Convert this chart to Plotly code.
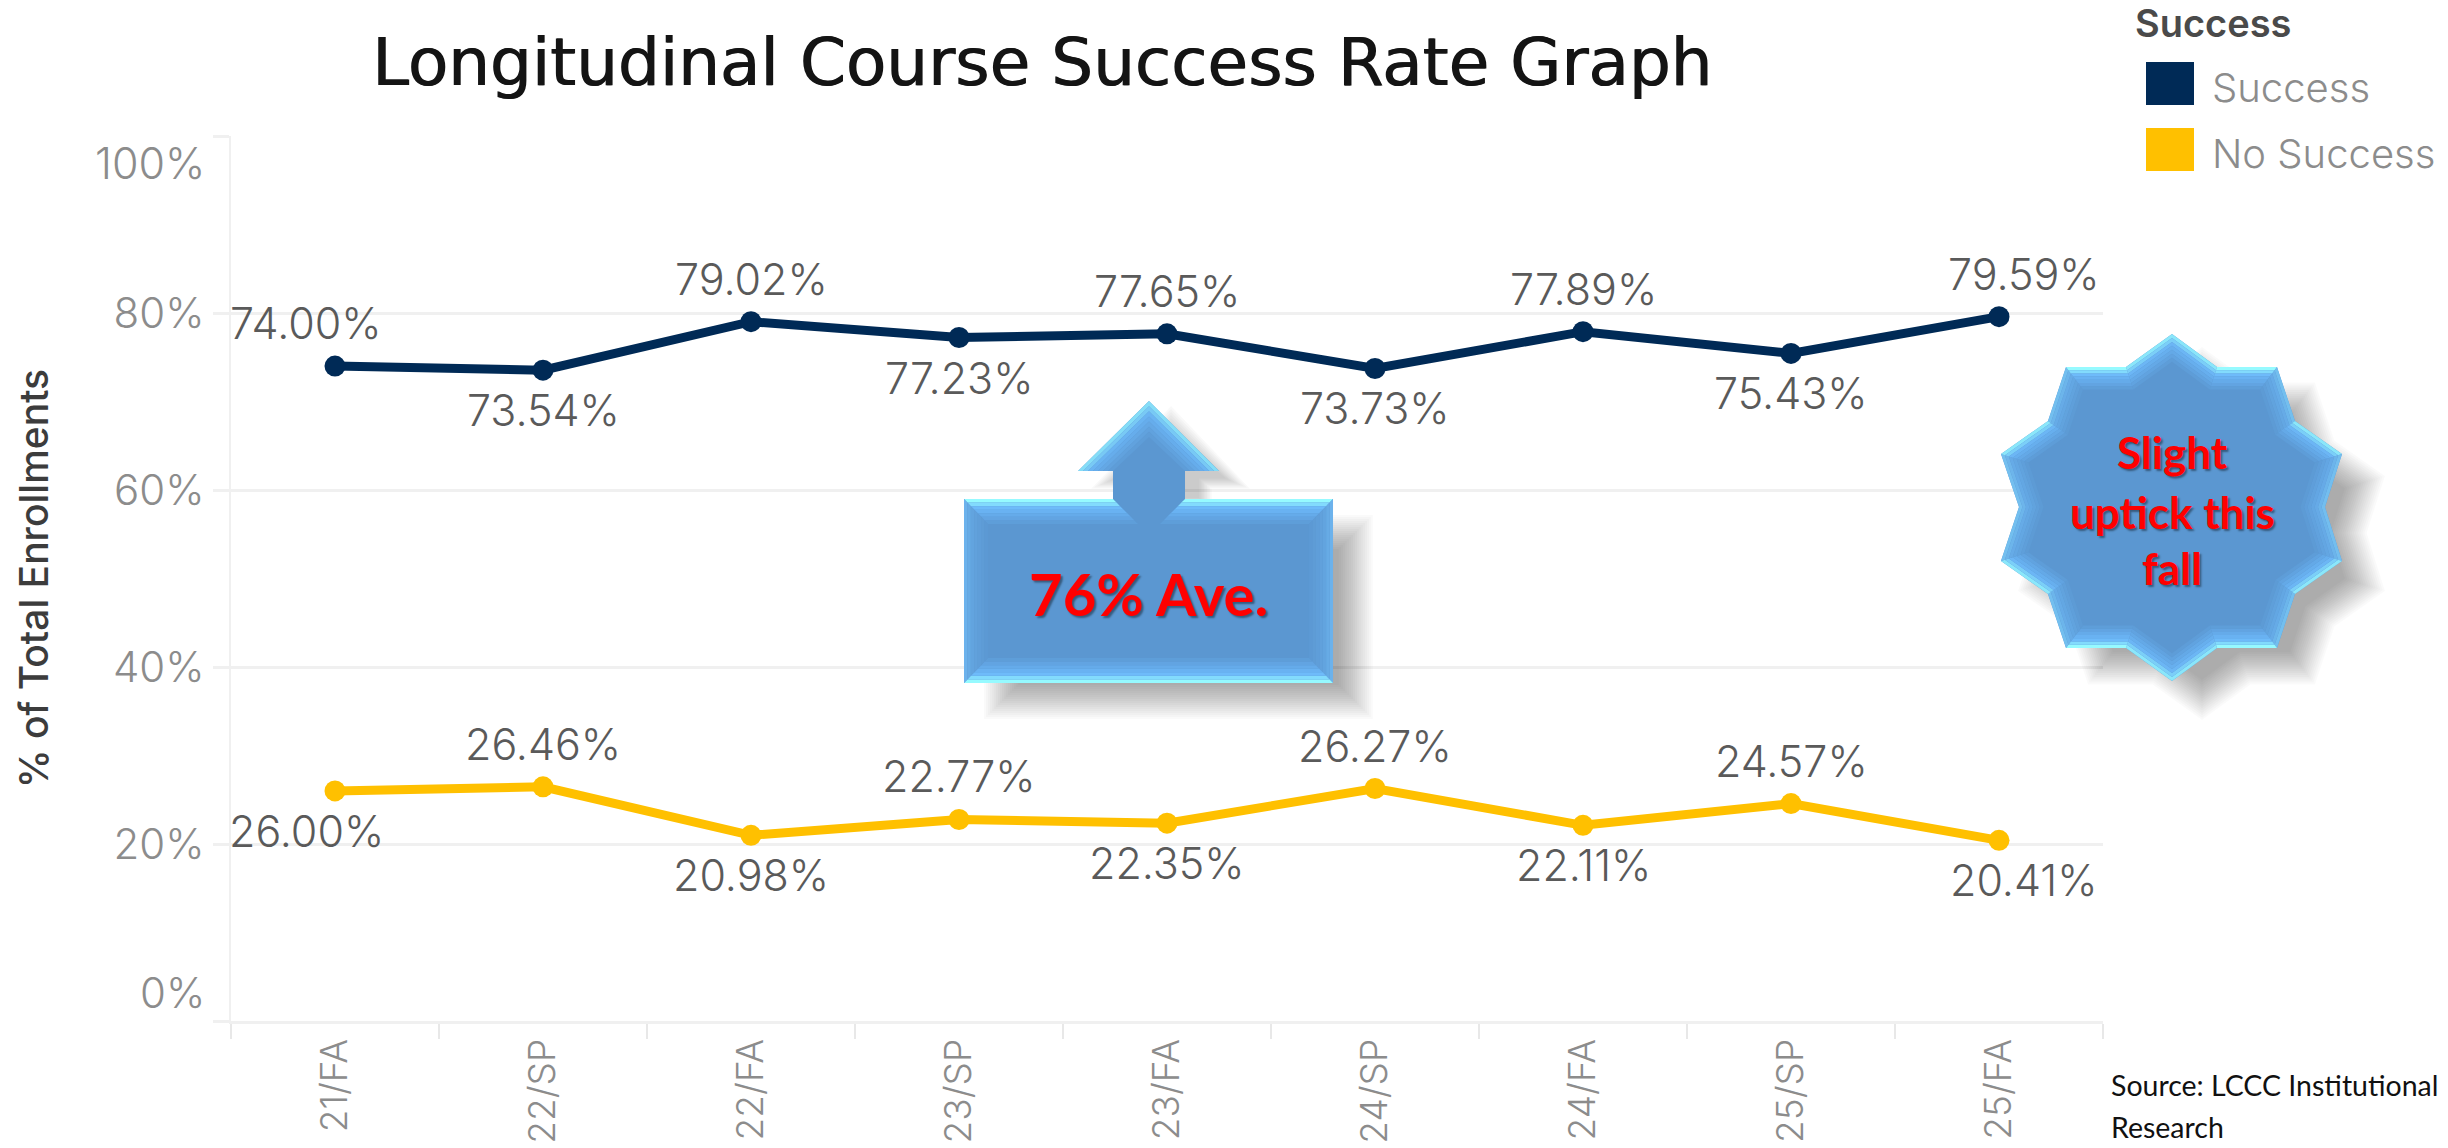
import plotly.graph_objects as go

# ---------- data ----------
terms = ["21/FA", "22/SP", "22/FA", "23/SP", "23/FA", "24/SP", "24/FA", "25/SP", "25/FA"]
success = [74.00, 73.54, 79.02, 77.23, 77.65, 73.73, 77.89, 75.43, 79.59]
no_success = [26.00, 26.46, 20.98, 22.77, 22.35, 26.27, 22.11, 24.57, 20.41]
series_names = ["Success", "No Success"]
y_ticks = [0, 20, 40, 60, 80, 100]

# ---------- style ----------
W, H = 2448, 1148
L, R, T, B = 231, 2103, 136, 1021
NAVY, GOLD = "#002a56", "#ffc000"
FONT = "Inter"
TITLE_FONT = "DejaVu Sans"
CALL = "Lato"
GREY = "#8c8c8c"
LABEL = "#5a5a5a"
GRID = "#f0f0f0"
FACE = (91, 151, 209)
px = lambda x: (x - L) / (R - L)
py = lambda y: (B - y) / (B - T)


def poly(pts, **kw):
    d = "M " + " L ".join(f"{px(x):.5f},{py(y):.5f}" for x, y in pts) + " Z"
    return dict(type="path", path=d, xref="paper", yref="paper", layer="above", **kw)


def mix(a, b, t):
    return tuple(int(round(a[i] + (b[i] - a[i]) * t)) for i in range(3))


def shadow(pts, dx=30, dy=26, blur=17, grow=-7, n=18, alpha=0.02):
    xs = [p[0] for p in pts]
    ys = [p[1] for p in pts]
    cx, cy = (min(xs) + max(xs)) / 2, (min(ys) + max(ys)) / 2
    w, h = (max(xs) - min(xs)) / 2, (max(ys) - min(ys)) / 2
    out = []
    for k in range(n):
        d = grow + blur - 2 * blur * k / (n - 1)
        sx, sy = (w + d) / w, (h + d) / h
        q = [(cx + (x - cx) * sx + dx, cy + (y - cy) * sy + dy) for x, y in pts]
        out.append(poly(q, fillcolor=f"rgba(0,0,0,{alpha})", line=dict(width=0)))
    return out


def bevel(outer, inner, steps=7):
    out = [poly(outer, fillcolor="rgb(%d,%d,%d)" % FACE, line=dict(width=0))]
    m = len(outer)
    for i in range(m):
        a, b = outer[i], outer[(i + 1) % m]
        c, e = inner[i], inner[(i + 1) % m]
        ex, ey = b[0] - a[0], b[1] - a[1]
        ln = (ex * ex + ey * ey) ** 0.5 or 1
        lit = abs(ex) / ln  # horizontal faces catch the light
        rim = mix((108, 178, 236), (150, 250, 255), lit ** 1.5)
        mid = mix((98, 163, 222), (108, 184, 250), lit)
        for s in range(steps):
            t0, t1 = s / steps, (s + 1) / steps
            f = lambda p, q, t: (p[0] + (q[0] - p[0]) * t, p[1] + (q[1] - p[1]) * t)
            col = mix(rim, mid, t0 / 0.3) if t0 < 0.3 else mix(mid, FACE, (t0 - 0.3) / 0.7)
            out.append(poly([f(a, c, t0), f(b, e, t0), f(b, e, t1), f(a, c, t1)],
                            fillcolor="rgb(%d,%d,%d)" % col, line=dict(width=0)))
    return out


# ---------- figure ----------
fig = go.Figure()
for name, vals, col in zip(series_names, [success, no_success], [NAVY, GOLD]):
    fig.add_trace(go.Scatter(x=terms, y=vals, name=name, mode="lines+markers",
                             line=dict(color=col, width=9),
                             marker=dict(color=col, size=21)))

ann = []
for j, vals in enumerate([success, no_success]):
    for i, v in enumerate(vals):
        up = (i % 2 == 0) if j == 0 else (i % 2 == 1)
        xs = -29 if i == 0 else (25 if i == len(vals) - 1 else 0)
        ann.append(dict(x=terms[i], y=v, xref="x", yref="y", text=f"{v:.2f}%", showarrow=False,
                        xshift=xs, yshift=43 if up else -40,
                        font=dict(family=FONT, size=43, color=LABEL, weight=300)))


def text(x, y, s, size, color, family=FONT, xa="center", ya="middle", **kw):
    ann.append(dict(x=px(x), y=py(y), xref="paper", yref="paper", text=s, showarrow=False,
                    xanchor=xa, yanchor=ya, font=dict(family=family, size=size, color=color, **kw)))


# clamped end labels of the value axis
text(207, 163, "100%", 43, GREY, xa="right", weight=300)
text(207, 992, "0%", 42, GREY, xa="right", weight=300)

# legend
text(2133, 23, "Success", 38, "#4a4a4a", weight=600, xa="left")
shapes = []
for name, col, (y0, y1) in zip(series_names, [NAVY, GOLD], [(62, 105), (128, 171)]):
    shapes.append(dict(type="rect", xref="paper", yref="paper", x0=px(2146), x1=px(2194),
                       y0=py(y0), y1=py(y1), fillcolor=col, line=dict(width=0), layer="above"))
    text(2210, (y0 + y1) / 2 + 4, name, 40, GREY, xa="left", weight=300)

# callout
box = [(964, 499), (1113, 499), (1113, 499), (1113, 471), (1078, 471), (1149, 401), (1219, 471),
       (1185, 471), (1185, 499), (1185, 499), (1333, 499), (1333, 683), (964, 683)]
box_in = [(988, 524), (1138, 524), (1113, 499), (1113, 471), (1113, 471), (1149, 437), (1185, 471),
          (1185, 471), (1185, 499), (1160, 524), (1309, 524), (1309, 658), (988, 658)]
shapes += shadow([(964, 499), (1333, 499), (1333, 683), (964, 683)])
shapes += shadow([(1078, 471), (1149, 401), (1219, 471), (1185, 471), (1185, 499), (1113, 499), (1113, 471)],
                 dx=22, dy=14, blur=12, grow=-3, n=9, alpha=0.022)
shapes += bevel(box, box_in)

# star
star = [(2172, 334), (2217, 367), (2277, 367), (2295, 421), (2342, 454), (2325, 507), (2342, 561),
        (2295, 594), (2277, 648), (2217, 648), (2172, 681), (2126, 648), (2066, 648), (2048, 594),
        (2001, 561), (2019, 507), (2001, 454), (2048, 421), (2066, 367), (2126, 367)]
CX, CY = 2172, 507
star_in = [(CX + (x - CX) * 0.84, CY + (y - CY) * 0.84) for x, y in star]
shapes += shadow(star, blur=20)
shapes += bevel(star, star_in)

SH = "2px 2px 2px rgba(0,0,0,0.4)"
text(1148, 593, "76% Ave.", 58, "#ff0000", family=CALL, weight=700, shadow=SH)
for s, y in zip(["Slight", "uptick this", "fall"], [452, 512, 568]):
    text(2172, y, s, 44, "#ff0000", family=CALL, weight=700, shadow=SH)

# source
text(2109, 1085, "Source: LCCC Institutional", 28.5, "#111111", family=CALL, xa="left")
text(2109, 1127, "Research", 28.5, "#111111", family=CALL, xa="left")

fig.update_layout(
    width=W, height=H, autosize=False, showlegend=False,
    margin=dict(l=L, r=W - R, t=T, b=H - B),
    paper_bgcolor="white", plot_bgcolor="white",
    title=dict(text="Longitudinal Course Success Rate Graph", x=1042 / W,
               xanchor="center", y=1 - 62 / H, yanchor="middle",
               font=dict(family=TITLE_FONT, size=66, color="#141414", weight=400,
                         shadow="1px 0 0 #141414")),
    annotations=ann, shapes=shapes,
    xaxis=dict(type="category", range=[-0.5, len(terms) - 0.5], tickson="boundaries",
               ticks="outside", ticklen=15, tickwidth=2, tickcolor="#e8e8e8",
               tickangle=-90, showgrid=False, showline=True, linecolor=GRID, linewidth=3,
               tickfont=dict(family=FONT, size=37, color=GREY, weight=300),
               zeroline=False, automargin=False),
    yaxis=dict(range=[0, 100], tickvals=y_ticks, automargin=False,
               ticktext=[f"{t}%" if 0 < t < 100 else "" for t in y_ticks],
               ticks="outside", ticklen=16, tickwidth=3, tickcolor=GRID,
               showgrid=True, gridcolor=GRID, gridwidth=3,
               showline=True, linecolor=GRID, linewidth=2, zeroline=False,
               tickfont=dict(family=FONT, size=42, color=GREY, weight=300),
               title=dict(text="% of Total Enrollments", standoff=52,
                          font=dict(family=FONT, size=39, color="#3c3c3c", weight=500))),
)
fig.write_html("out.html", config=dict(displayModeBar=False),
               post_script="document.body.style.margin='0';")
